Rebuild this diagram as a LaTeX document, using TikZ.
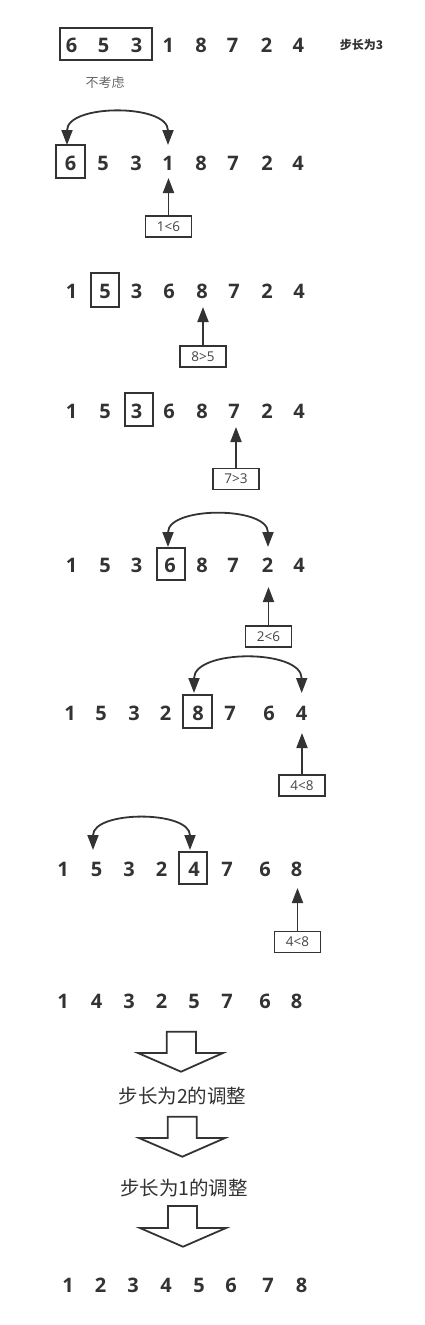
\documentclass[tikz,border=0pt]{standalone}
\usepackage{fontspec}
\setmainfont{Open Sans}
\newfontfamily\cjk{Noto Sans CJK SC}
\usetikzlibrary{arrows.meta}
\definecolor{ink}{HTML}{333333}
\definecolor{soft}{HTML}{444444}
\definecolor{grayt}{HTML}{666666}
\newcommand\digitrow[3]{%
  \foreach \xx/\dd [count=\i] in {#3} {\node[dig] (r#1n\i) at (\xx,#2) {\dd};}}
\begin{document}
\begin{tikzpicture}[x=1pt,y=-1pt,
  dig/.style={font=\fontsize{20}{24}\selectfont\bfseries, text=ink, inner sep=0pt},
  hl/.style={draw=ink, line width=1.8pt, inner sep=0pt},
  lbl/.style={draw=ink, line width=1.6pt, inner sep=0pt, minimum width=46pt, minimum height=21pt,
     font=\fontsize{13.5}{15}\selectfont, text=soft},
  uparr/.style={draw=ink, line width=1.8pt, -{Triangle[length=15pt,width=11pt]}},
  swaparc/.style={draw=ink, line width=1.8pt, {Triangle[length=15pt,width=11pt]}-{Triangle[length=15pt,width=11pt]}, out=90, in=90, looseness=1.05},
  blk/.style={draw=ink, line width=1.8pt, fill=white, line join=miter},
  captxt/.style={font=\cjk\fontsize{19.5}{22}\selectfont, text=ink, inner sep=0pt}]
\path[fill=white] (0,0) rectangle (424,1325);
\useasboundingbox (0,0) rectangle (424,1325);

% Row 1
\node[hl, minimum width=92pt, minimum height=32pt] (grp) at (105.8,43.8) {};
\digitrow{1}{45}{71.7/6,103.5/5,136.7/3,168.3/1,201/8,232.7/7,266.7/2,298.3/4}
\node[font=\cjk\fontsize{12}{14}\selectfont\bfseries, text=ink, inner sep=0pt] (step3) at (361.5,45) {步长为3};
\node[font=\cjk\fontsize{13}{15}\selectfont, text=grayt, inner sep=0pt] (skip) at (105,83) {不考虑};

% Row 2
\node[hl, minimum width=29pt, minimum height=33pt] (b2) at (70.5,161.5) {};
\digitrow{2}{163}{70.7/6,103/5,136/3,168/1,201/8,233/7,267/2,298/4}
\coordinate (a2l) at (67,145);
\coordinate (a2r) at (168,145);
\draw[swaparc] (a2r) to (a2l);
\node[lbl] (l2) at (168.5,226.5) {1<6};
\coordinate (t2) at (168.5,178);
\draw[uparr] (l2) -- (l2 |- t2);

% Row 3
\node[hl, minimum width=28pt, minimum height=34pt] (b3) at (105,290) {};
\digitrow{3}{291.7}{71.7/1,105/5,136.7/3,169/6,202/8,234/7,267/2,299/4}
\node[lbl] (l3) at (203,356.5) {8>5};
\coordinate (t3) at (203,307);
\draw[uparr] (l3) -- (l3 |- t3);

% Row 4
\node[hl, minimum width=28pt, minimum height=33pt] (b4) at (139,409.5) {};
\digitrow{4}{411.7}{71.7/1,105/5,136.7/3,169/6,202/8,234/7,267/2,299/4}
\node[lbl] (l4) at (236,479) {7>3};
\coordinate (t4) at (236,427);
\draw[uparr] (l4) -- (l4 |- t4);

% Row 5
\node[hl, minimum width=28pt, minimum height=32pt] (b5) at (170.8,564) {};
\digitrow{5}{565}{71.7/1,105/5,136.7/3,170/6,202/8,233/7,267.7/2,299/4}
\coordinate (a5l) at (168,547);
\coordinate (a5r) at (268,547);
\draw[swaparc] (a5r) to (a5l);
\node[lbl] (l5) at (268.5,636.5) {2<6};
\coordinate (t5) at (268.5,587);
\draw[uparr] (l5) -- (l5 |- t5);

% Row 6
\node[hl, minimum width=29pt, minimum height=33pt] (b6) at (197.5,711.5) {};
\digitrow{6}{713}{70/1,101/5,134/3,165.7/2,198/8,230/7,269/6,301.7/4}
\coordinate (a6l) at (194,693);
\coordinate (a6r) at (301.7,693);
\draw[swaparc] (a6r) to (a6l);
\node[lbl] (l6) at (302,785.5) {4<8};
\coordinate (t6) at (302,733);
\draw[uparr] (l6) -- (l6 |- t6);

% Row 7
\node[hl, minimum width=28pt, minimum height=32pt] (b7) at (193,868) {};
\digitrow{7}{869}{63/1,96.7/5,129/3,161.7/2,194/4,227/7,265/6,296.7/8}
\coordinate (a7l) at (93,850);
\coordinate (a7r) at (190,850);
\draw[swaparc] (a7r) to (a7l);
\node[lbl] (l7) at (297.5,942) {4<8};
\coordinate (t7) at (297.5,888);
\draw[uparr] (l7) -- (l7 |- t7);

% Row 8
\digitrow{8}{1001.7}{63/1,96.7/4,129/3,161.7/2,194/5,227/7,265/6,296.7/8}

% Block arrows and captions
\draw[blk] (166.7,1031.7) -- (196,1031.7) -- (196,1053) -- (223,1053) -- (181,1071.7) -- (138,1053) -- (166.7,1053) -- cycle;
\node[captxt] (c2) at (182.5,1096) {步长为2的调整};
\draw[blk] (167.7,1116.7) -- (196.7,1116.7) -- (196.7,1138) -- (225,1138) -- (182.3,1156.7) -- (139,1138) -- (167.7,1138) -- cycle;
\node[captxt] (c1) at (184,1188) {步长为1的调整};
\draw[blk] (168,1206) -- (197,1206) -- (197,1228) -- (226,1228) -- (183,1246.7) -- (140,1228) -- (168,1228) -- cycle;

% Row 9
\digitrow{9}{1285}{68/1,100.7/2,133/3,166/4,199/5,231/6,268/7,301.7/8}
\end{tikzpicture}
\end{document}
